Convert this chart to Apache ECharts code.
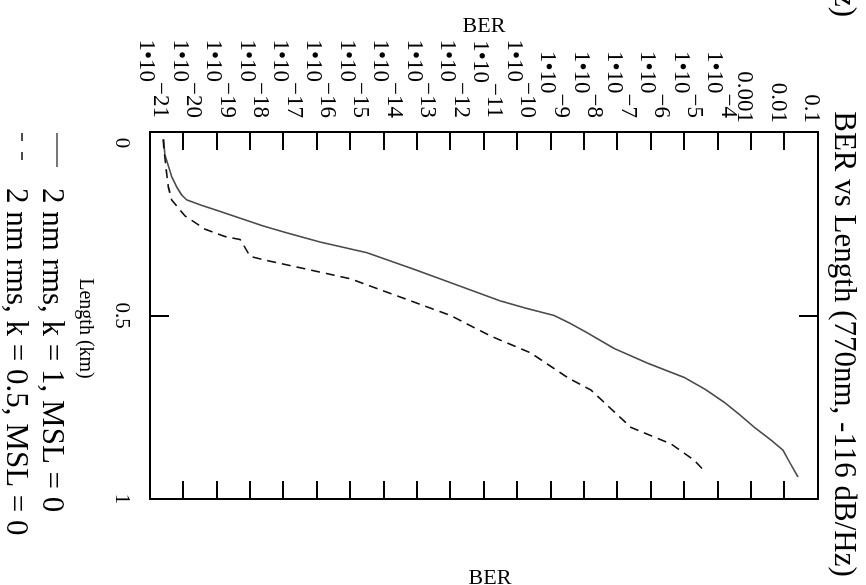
<!DOCTYPE html>
<html>
<head>
<meta charset="utf-8">
<script src="https://cdn.jsdelivr.net/npm/echarts@6/dist/echarts.min.js"></script>
<style>
  html, body { margin: 0; padding: 0; background: #fff; overflow: hidden; }
  /* chart is laid out upright (585 x 866) and turned a quarter clockwise */
  #chart {
    position: absolute; left: 0; top: 0;
    width: 585px; height: 866px;
    transform-origin: 0 0;
    transform: translate(866px, 0) rotate(90deg);
  }
</style>
</head>
<body>
<div id="chart"></div>
<script>
  /* data: length (km) and log10(BER) */
  var lenSolid = [0.02, 0.063, 0.122, 0.15, 0.172, 0.185, 0.20, 0.215, 0.235, 0.255, 0.275, 0.30, 0.329, 0.37, 0.40, 0.43, 0.46, 0.48, 0.50, 0.52, 0.545, 0.59, 0.63, 0.669, 0.70, 0.737, 0.77, 0.805, 0.84, 0.867, 0.90, 0.94];
  var expSolid = [-20.6, -20.55, -20.35, -20.2, -20.05, -19.9, -19.45, -18.95, -18.3, -17.65, -16.9, -15.9, -14.5, -13.22, -12.32, -11.42, -10.52, -9.75, -8.9, -8.45, -7.95, -7.1, -6.1, -5.0, -4.4, -3.8, -3.35, -2.9, -2.4, -2.05, -1.85, -1.6];

  var lenDash = [0.02, 0.05, 0.10, 0.15, 0.185, 0.229, 0.265, 0.285, 0.293, 0.339, 0.349, 0.37, 0.40, 0.44, 0.47, 0.50, 0.556, 0.602, 0.669, 0.703, 0.805, 0.85, 0.895, 0.926];
  var expDash = [-20.6, -20.58, -20.52, -20.45, -20.35, -19.95, -19.35, -18.75, -18.3, -18.0, -17.56, -16.5, -15.0, -13.8, -12.9, -12.0, -10.8, -9.6, -8.5, -7.8, -6.6, -5.4, -4.7, -4.38];

  var seriesNames = ['2 nm rms, k = 1, MSL = 0', '2 nm rms, k = 0.5, MSL = 0'];
  var lengthTicks = ['0', '0.5', '1'];
  var berTicks = [1e-21, 1e-20, 1e-19, 1e-18, 1e-17, 1e-16, 1e-15, 1e-14, 1e-13, 1e-12, 1e-11,
                  1e-10, 1e-9, 1e-8, 1e-7, 1e-6, 1e-5, 1e-4, 1e-3, 1e-2, 1e-1];
  var decimalTicks = { '-1': '0.1', '-2': '0.01', '-3': '0.001' };

  var font = 'Liberation Serif';
  var solidColor = '#4a4a4a';
  var dashColor = '#111';

  function pairs(len, ex) {
    return len.map(function (l, i) { return [l, Math.pow(10, ex[i])]; });
  }

  /* "1•10" with a raised exponent, Mathcad style */
  function berLabel(v) {
    var e = Math.round(Math.log10(v));
    if (decimalTicks[e]) return '{d|' + decimalTicks[e] + '}';
    return '{b|1\u202210}{s|\u2212' + (-e) + '}';
  }

  var chart = echarts.init(document.getElementById('chart'));
  var option = {
    backgroundColor: '#fff',
    animation: false,
    grid: { left: 132, right: 86, top: 48, bottom: 150, outerBoundsMode: 'none' },
    graphic: [
      { type: 'text', x: 344, y: 23, style: { text: 'BER vs Length (770nm, -116 dB/Hz)', font: '31px "Liberation Serif"', fill: '#000', align: 'center', verticalAlign: 'middle' } },
      /* legend, drawn by hand */
      { type: 'line', shape: { x1: 133, y1: 809, x2: 167, y2: 809 }, style: { stroke: solidColor, lineWidth: 1.6 } },
      { type: 'text', x: 188, y: 815, style: { text: seriesNames[0], font: '31px "Liberation Serif"', fill: '#000', align: 'left', verticalAlign: 'middle' } },
      { type: 'line', shape: { x1: 133, y1: 844, x2: 160, y2: 844 }, style: { stroke: dashColor, lineWidth: 1.6, lineDash: [8, 11] } },
      { type: 'text', x: 188, y: 851, style: { text: seriesNames[1], font: '31px "Liberation Serif"', fill: '#000', align: 'left', verticalAlign: 'middle' } },
      /* fragments of the neighbouring plots */
      { type: 'text', x: 17, y: 23, style: { text: 'dB/Hz)', font: '31px "Liberation Serif"', fill: '#000', align: 'right', verticalAlign: 'middle' } },
      { type: 'text', x: 578, y: 376, rotation: Math.PI / 2, style: { text: 'BER', font: '22px "Liberation Serif"', fill: '#000', align: 'center', verticalAlign: 'middle' } }
    ],
    xAxis: [{
      type: 'value',
      min: 0, max: 1, interval: 0.5,
      name: 'Length (km)',
      nameLocation: 'middle',
      nameGap: 55,
      nameTextStyle: { fontFamily: font, fontSize: 20, color: '#000', padding: [0, 0, 0, 26] },
      axisLine: { onZero: false, lineStyle: { color: '#000', width: 2 } },
      axisTick: { inside: true, length: 19, lineStyle: { color: '#000', width: 2 } },
      splitLine: { show: false },
      axisLabel: {
        margin: 18, showMinLabel: true, showMaxLabel: true,
        fontFamily: font, fontSize: 21, color: '#000',
        formatter: function (v) {
          var t = lengthTicks[Math.round(v * 2)];
          return v === 0 ? '{z|' + t + '}' : t;
        },
        rich: { z: { fontFamily: font, fontSize: 21, padding: [0, 0, 0, 22] } }
      }
    }, {
      type: 'value', position: 'top',
      min: 0, max: 1, interval: 0.5,
      axisLine: { onZero: false, lineStyle: { color: '#000', width: 2 } },
      axisTick: { inside: true, length: 19, lineStyle: { color: '#000', width: 2 } },
      axisLabel: { show: false },
      splitLine: { show: false }
    }],
    yAxis: [{
      type: 'log', logBase: 10,
      min: 1e-21, max: 0.1,
      name: 'BER',
      nameLocation: 'middle',
      nameGap: 95,
      nameTextStyle: { fontFamily: font, fontSize: 22, color: '#000' },
      axisLine: { onZero: false, lineStyle: { color: '#000', width: 2 } },
      axisTick: { inside: true, length: 18, customValues: berTicks, lineStyle: { color: '#000', width: 2 } },
      splitLine: { show: false },
      minorTick: { show: false },
      /* tick labels come from the label series below, so none get dropped for overlap */
      axisLabel: { show: false }
    }, {
      type: 'log', logBase: 10, position: 'right',
      min: 1e-21, max: 0.1,
      axisLine: { onZero: false, lineStyle: { color: '#000', width: 2 } },
      axisTick: { inside: true, length: 18, customValues: berTicks, lineStyle: { color: '#000', width: 2 } },
      axisLabel: { show: false },
      splitLine: { show: false },
      minorTick: { show: false }
    }],
    series: [{
      name: seriesNames[0],
      type: 'line',
      symbol: 'none',
      data: pairs(lenSolid, expSolid),
      lineStyle: { color: solidColor, width: 1.6, type: 'solid' }
    }, {
      name: seriesNames[1],
      type: 'line',
      symbol: 'none',
      data: pairs(lenDash, expDash),
      lineStyle: { color: dashColor, width: 1.6, type: [9, 6] }
    }, {
      /* BER tick labels, placed on the log scale at Length = 0 */
      name: 'ber ticks',
      type: 'scatter',
      silent: true,
      clip: false,
      symbol: 'circle',
      symbolSize: 0,
      itemStyle: { color: 'rgba(0,0,0,0)' },
      data: berTicks.map(function (v) { return [0, v]; }),
      label: {
        show: true,
        position: 'left',
        distance: 9,
        opacity: 1,
        color: '#000',
        fontFamily: font,
        fontSize: 23,
        padding: [0, 0, 6.5, 0],
        formatter: function (p) { return berLabel(p.value[1]); },
        rich: {
          d: { fontFamily: font, fontSize: 23, color: '#000', padding: [20.5, 0, 0, 0] },
          b: { fontFamily: font, fontSize: 23, color: '#000', padding: [13.5, 0, 0, 0] },
          s: { fontFamily: font, fontSize: 23, color: '#000', padding: [0, 5, 13.5, 0] }
        }
      }
    }]
  };
  chart.setOption(option);
</script>
</body>
</html>
